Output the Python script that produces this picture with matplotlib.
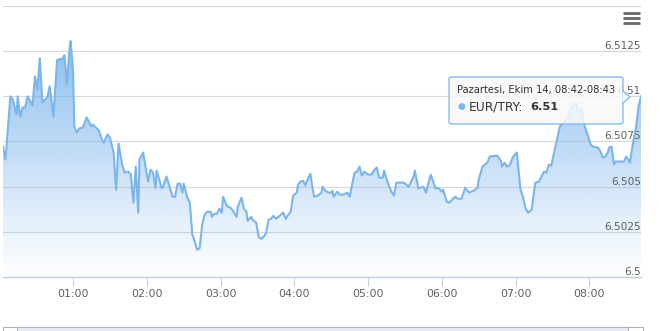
import numpy as np
import matplotlib
matplotlib.use('Agg')
import matplotlib.pyplot as plt
from matplotlib.colors import to_rgb
from matplotlib.patches import FancyBboxPatch, Polygon, Rectangle
from matplotlib.lines import Line2D

# EUR/TRY, minutes since 00:00 and rate
minutes = [3, 5, 9, 11, 14, 15, 17, 19, 21, 23, 27, 29, 31, 33, 35, 39, 41, 44, 47, 49,
           51, 53, 55, 57, 58, 60, 61, 63, 65, 68, 71, 75, 76, 80, 81, 84, 85, 88, 90, 93,
           95, 97, 100, 102, 105, 107, 109, 111, 113, 114, 117, 121, 123, 125, 127, 128, 132, 133, 136, 141,
           143, 145, 147, 149, 150, 153, 155, 157, 158, 161, 163, 165, 167, 169, 172, 173, 175, 177, 179, 181,
           182, 185, 188, 190, 193, 194, 197, 199, 201, 202, 205, 206, 209, 211, 213, 215, 217, 219, 221, 223,
           225, 227, 228, 231, 233, 235, 237, 239, 242, 243, 245, 247, 249, 250, 253, 256, 259, 262, 263, 265,
           268, 270, 271, 272, 275, 277, 280, 283, 285, 289, 291, 293, 295, 297, 300, 303, 304, 307, 309, 312,
           313, 316, 319, 321, 323, 325, 328, 329, 333, 335, 337, 338, 341, 342, 345, 347, 351, 353, 355, 357,
           360, 361, 364, 366, 369, 371, 373, 376, 379, 382, 386, 389, 390, 393, 397, 399, 405, 408, 409, 411,
           413, 415, 418, 421, 424, 426, 428, 430, 433, 436, 439, 443, 445, 447, 449, 451, 454, 456, 460, 463,
           465, 469, 471, 474, 475, 478, 479, 481, 483, 487, 489, 491, 493, 495, 496, 498, 500, 501, 504, 508,
           510, 513, 515, 518, 520, 522]
rates = [6.50722, 6.50650, 6.51000, 6.50983, 6.50900, 6.51000, 6.50889, 6.50939, 6.50939, 6.51000,
         6.50950, 6.51111, 6.51039, 6.51211, 6.50967, 6.50994, 6.51056, 6.50889, 6.51200, 6.51206,
         6.51206, 6.51228, 6.51067, 6.51261, 6.51306, 6.51133, 6.50833, 6.50800, 6.50822, 6.50828,
         6.50883, 6.50833, 6.50844, 6.50817, 6.50811, 6.50750, 6.50744, 6.50789, 6.50772, 6.50689,
         6.50483, 6.50739, 6.50622, 6.50578, 6.50583, 6.50567, 6.50411, 6.50611, 6.50356, 6.50650,
         6.50689, 6.50528, 6.50594, 6.50578, 6.50494, 6.50589, 6.50494, 6.50494, 6.50556, 6.50444,
         6.50444, 6.50517, 6.50517, 6.50467, 6.50517, 6.50439, 6.50411, 6.50233, 6.50217, 6.50150,
         6.50161, 6.50289, 6.50344, 6.50361, 6.50361, 6.50333, 6.50350, 6.50350, 6.50378, 6.50356,
         6.50444, 6.50394, 6.50383, 6.50367, 6.50333, 6.50389, 6.50439, 6.50378, 6.50361, 6.50311,
         6.50333, 6.50317, 6.50300, 6.50222, 6.50211, 6.50222, 6.50244, 6.50317, 6.50322, 6.50339,
         6.50322, 6.50333, 6.50339, 6.50356, 6.50322, 6.50344, 6.50361, 6.50450, 6.50467, 6.50511,
         6.50528, 6.50533, 6.50506, 6.50528, 6.50572, 6.50444, 6.50450, 6.50467, 6.50500, 6.50478,
         6.50467, 6.50467, 6.50478, 6.50444, 6.50472, 6.50456, 6.50456, 6.50467, 6.50444, 6.50578,
         6.50583, 6.50611, 6.50561, 6.50583, 6.50567, 6.50567, 6.50583, 6.50606, 6.50550, 6.50550,
         6.50589, 6.50522, 6.50472, 6.50450, 6.50522, 6.50522, 6.50522, 6.50522, 6.50500, 6.50528,
         6.50556, 6.50589, 6.50489, 6.50494, 6.50500, 6.50467, 6.50567, 6.50528, 6.50489, 6.50494,
         6.50472, 6.50483, 6.50417, 6.50411, 6.50433, 6.50444, 6.50433, 6.50433, 6.50494, 6.50467,
         6.50478, 6.50494, 6.50539, 6.50611, 6.50633, 6.50667, 6.50672, 6.50644, 6.50611, 6.50633,
         6.50611, 6.50617, 6.50667, 6.50689, 6.50483, 6.50444, 6.50383, 6.50356, 6.50372, 6.50522,
         6.50528, 6.50583, 6.50578, 6.50622, 6.50617, 6.50678, 6.50772, 6.50833, 6.50861, 6.50889,
         6.50939, 6.50961, 6.50917, 6.50928, 6.50856, 6.50800, 6.50778, 6.50733, 6.50722, 6.50717,
         6.50694, 6.50661, 6.50667, 6.50689, 6.50717, 6.50722, 6.50622, 6.50639, 6.50639, 6.50639,
         6.50667, 6.50633, 6.50722, 6.50833, 6.50944, 6.51000]

hour_ticks = [60, 120, 180, 240, 300, 360, 420, 480]
hour_labels = ['01:00', '02:00', '03:00', '04:00', '05:00', '06:00', '07:00', '08:00']
y_ticks = [6.5, 6.5025, 6.505, 6.5075, 6.51, 6.5125, 6.515]
y_labels = ['6.5', '6.5025', '6.505', '6.5075', '6.51', '6.5125', '']

tooltip_title = 'Pazartesi, Ekim 14, 08:42-08:43'
series_name = 'EUR/TRY'

W, H = 660, 331
LINE = '#7cb5ec'
LABEL = '#606060'

fig = plt.figure(figsize=(W / 100, H / 100), dpi=100)

def px(x, y):
    return x / W, 1 - y / H

left, right, top, bottom = 3, 641, 6, 277
ax = fig.add_axes([left / W, 1 - bottom / H, (right - left) / W, (bottom - top) / H])
ax.set_xlim(minutes[0], minutes[-1])
ax.set_ylim(y_ticks[0], y_ticks[-1])

for s in ['left', 'right', 'top']:
    ax.spines[s].set_visible(False)
ax.spines['bottom'].set_color('#c0d0e0')
ax.spines['bottom'].set_linewidth(1)
ax.spines['bottom'].set_zorder(5)

ax.set_yticks(y_ticks)
ax.set_yticklabels([])
ax.tick_params(axis='y', length=0)
ax.grid(axis='y', color='#d8d8d8', linewidth=0.8)
ax.set_axisbelow(True)

ax.set_xticks(hour_ticks)
ax.set_xticklabels(hour_labels, fontsize=7.8, color=LABEL)
ax.tick_params(axis='x', length=6.5, width=0.8, color='#c0d0e0', pad=2)

# y labels sit inside the plot, right aligned above the gridlines
for v, lab in zip(y_ticks, y_labels):
    ax.text(1.0, v, lab, transform=ax.get_yaxis_transform(), ha='right', va='bottom',
            fontsize=7.6, color=LABEL, zorder=3)

# gradient area
grad = np.zeros((256, 1, 4))
grad[..., :3] = to_rgb(LINE)
grad[..., 3] = np.linspace(1.0, 0.0, 256).reshape(-1, 1)
im = ax.imshow(grad, extent=[minutes[0], minutes[-1], y_ticks[0], y_ticks[-1]],
               aspect='auto', origin='upper', zorder=1, interpolation='bilinear')
area = ax.fill_between(minutes, rates, y_ticks[0], color='none', linewidth=0)
im.set_clip_path(area.get_paths()[0], transform=ax.transData)
ax.plot(minutes, rates, color=LINE, linewidth=1.5, zorder=4, solid_joinstyle='round')

# tooltip
x0, y0 = px(449, 124)
x1, y1 = px(623, 77)
box = FancyBboxPatch((x0, y0), x1 - x0, y1 - y0, boxstyle='round,pad=0,rounding_size=0.005',
                     transform=fig.transFigure, facecolor=(0.976, 0.976, 0.976, 0.85),
                     edgecolor=LINE, linewidth=0.9, zorder=10)
fig.patches.append(box)
tri = Polygon([px(622.5, 91), px(630, 97), px(622.5, 103)], closed=True, transform=fig.transFigure,
              facecolor=(0.976, 0.976, 0.976, 1), edgecolor='none', zorder=11)
fig.patches.append(tri)
fig.lines.append(Line2D([px(623, 91)[0], px(630, 97)[0], px(623, 103)[0]],
                        [px(623, 91)[1], px(630, 97)[1], px(623, 103)[1]],
                        transform=fig.transFigure, color=LINE, linewidth=0.9, zorder=12))
fig.text(*px(457, 90), tooltip_title, fontsize=7.2, color='#333333', va='center', ha='left', zorder=13)
fig.text(*px(458, 107), '\u25cf', fontsize=6.5, color=LINE, va='center', ha='left', zorder=13)
fig.text(*px(469, 107), f'{series_name}:', fontsize=8.8, color='#333333', va='center', ha='left', zorder=13)
fig.text(*px(530, 107), f'{rates[-1]:.2f}', fontsize=8.2, color='#333333', fontweight='bold',
         va='center', ha='left', zorder=13)

# menu icon
for yy in [13, 18, 23]:
    fig.lines.append(Line2D([px(623, yy)[0], px(640, yy)[0]], [px(623, yy)[1]] * 2,
                            transform=fig.transFigure, color='#666666', linewidth=2.0,
                            solid_capstyle='butt'))

# navigator strip at the bottom
nx0, ny0 = px(3, 338)
nx1, ny1 = px(643, 327)
fig.patches.append(Rectangle((nx0, ny0), nx1 - nx0, ny1 - ny0, transform=fig.transFigure,
                             facecolor='white', edgecolor='#b2b1b6', linewidth=0.8))
sx0, _ = px(17, 0)
sx1, _ = px(628, 0)
fig.patches.append(Rectangle((sx0, ny0), sx1 - sx0, ny1 - ny0, transform=fig.transFigure,
                             facecolor='#e6ebf5', edgecolor='#b2b1b6', linewidth=0.8))

fig.savefig('out.png', dpi=100)
